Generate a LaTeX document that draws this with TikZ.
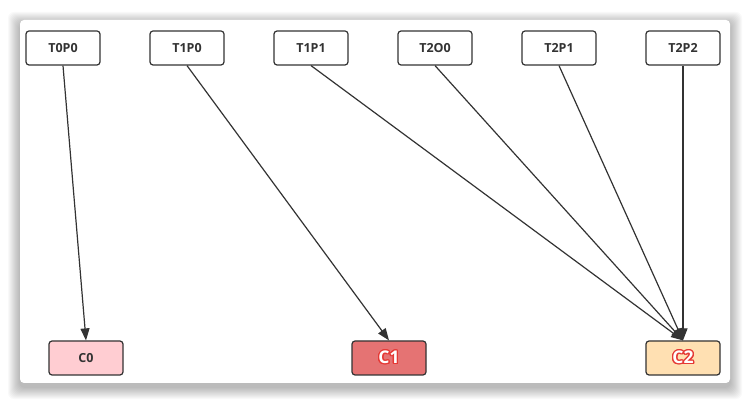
\documentclass[tikz,border=0pt]{standalone}
\usepackage{fontspec}
\setmainfont{Open Sans}
\usepackage{contour}
\usetikzlibrary{arrows.meta}
\definecolor{linegray}{HTML}{333333}
\definecolor{pinkfill}{HTML}{FFCDD2}
\definecolor{redfill}{HTML}{E57373}
\definecolor{orangefill}{HTML}{FFE0B2}
\definecolor{outlinered}{HTML}{E53935}
\contourlength{1.3pt}
% white letters with a red outline
\newcommand{\redlabel}[1]{\contour{outlinered}{\textcolor{white}{#1}}}

\begin{document}
\begin{tikzpicture}[x=1pt,y=-1pt]
    \tikzstyle{task}=[draw=linegray, line width=1.2pt, rounded corners=3pt,
        minimum width=74pt, minimum height=34pt, inner sep=0pt, fill=white,
        font=\bfseries\fontsize{12.5}{14}\selectfont, text=linegray]
    \tikzstyle{flow}=[draw=linegray, line width=1.2pt, -{Triangle[length=12pt,width=9pt]}]
    \useasboundingbox (0,0) rectangle (750,403);
    \fill[white] (0,0) rectangle (750,403);
    % soft shadow round the card
    \foreach \i in {1,...,12}
        \fill[black, opacity=0.022, rounded corners=6pt]
            (20-\i,20-\i+4) rectangle (730+\i,383+\i+4);
    \fill[white, rounded corners=4pt] (20,20) rectangle (730,383);

    \node[task] (t0p0) at (63,48) {T0P0};
    \node[task] (t1p0) at (187,48) {T1P0};
    \node[task] (t1p1) at (311,48) {T1P1};
    \node[task] (t2o0) at (435,48) {T2O0};
    \node[task] (t2p1) at (559,48) {T2P1};
    \node[task] (t2p2) at (683,48) {T2P2};

    \node[task, fill=pinkfill] (c0) at (86,358) {C0};
    \node[task, fill=redfill, font=\bfseries\fontsize{17.5}{18}\selectfont] (c1) at (389,358) {\redlabel{C1}};
    \node[task, fill=orangefill, font=\bfseries\fontsize{17.5}{18}\selectfont] (c2) at (683,358) {\redlabel{C2}};

    \draw[flow] (t0p0.south) -- (c0.north);
    \draw[flow] (t1p0.south) -- (c1.north);
    \draw[flow] (t1p1.south) -- (c2.north);
    \draw[flow] (t2o0.south) -- (c2.north);
    \draw[flow] (t2p1.south) -- (c2.north);
    \draw[flow] (t2p2.south) -- (c2.north);
\end{tikzpicture}
\end{document}
